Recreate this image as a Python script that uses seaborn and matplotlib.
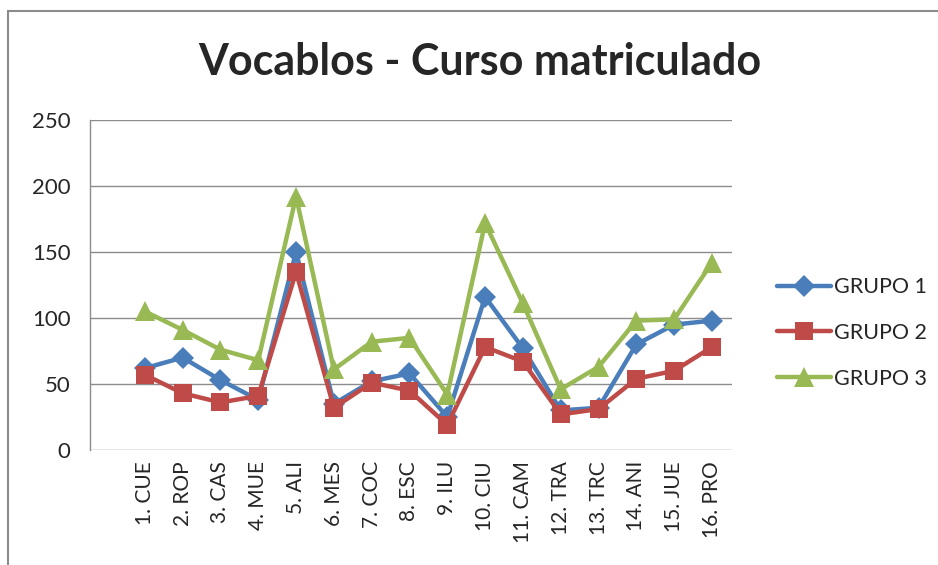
import seaborn as sns
import matplotlib.pyplot as plt
import matplotlib.patches as mpatches
import pandas as pd

# Categories and values
categories = ['1. CUE', '2. ROP', '3. CAS', '4. MUE', '5. ALI', '6. MES', '7. COC', '8. ESC',
              '9. ILU', '10. CIU', '11. CAM', '12. TRA', '13. TRC', '14. ANI', '15. JUE', '16. PRO']
grupo1 = [62, 70, 53, 38, 150, 35, 52, 58, 25, 116, 77, 30, 32, 80, 95, 98]
grupo2 = [57, 43, 36, 41, 135, 32, 51, 45, 19, 78, 67, 27, 31, 54, 60, 78]
grupo3 = [105, 91, 76, 68, 192, 61, 82, 85, 42, 172, 111, 46, 63, 98, 99, 142]
series_names = ['GRUPO 1', 'GRUPO 2', 'GRUPO 3']
y_ticks = [0, 50, 100, 150, 200, 250]

rows = []
for name, vals in zip(series_names, [grupo1, grupo2, grupo3]):
    for i, v in enumerate(vals):
        rows.append({'pos': i, 'Grupo': name, 'valor': v})
df = pd.DataFrame(rows)

sns.set_style('white')
plt.rcParams['font.family'] = ['Lato', 'DejaVu Sans']

colors = {'GRUPO 1': '#4A7EBB', 'GRUPO 2': '#BE4B48', 'GRUPO 3': '#98B954'}
markers = {'GRUPO 1': 'D', 'GRUPO 2': 's', 'GRUPO 3': '^'}
msize = {'GRUPO 1': 11, 'GRUPO 2': 13, 'GRUPO 3': 15}

fig = plt.figure(figsize=(9.38, 5.65), dpi=100)
ax = fig.add_axes([90 / 938, 1 - 450 / 565, 642 / 938, 330 / 565])

for name in series_names:
    sub = df[df['Grupo'] == name]
    sns.lineplot(data=sub, x='pos', y='valor', ax=ax, color=colors[name],
                 marker=markers[name], markersize=msize[name], linewidth=3.2,
                 markeredgewidth=0, label=name)

ax.set_xlim(-1.45, 15.53)
ax.set_ylim(0, 250)
ax.set_yticks(y_ticks)
ax.set_xticks(range(len(categories)))
ax.set_xticklabels(categories, rotation=90, fontsize=15)
ax.tick_params(axis='y', labelsize=16, length=0, pad=14)
ax.tick_params(axis='x', length=0, pad=8)
ax.set_xlabel('')
ax.set_ylabel('')
ax.grid(axis='y', color='#8C8C8C', linewidth=1)
ax.set_axisbelow(True)
for s in ['top', 'right', 'bottom']:
    ax.spines[s].set_visible(False)
ax.spines['left'].set_color('#8C8C8C')
ax.spines['left'].set_linewidth(1)

fig.text(480 / 938, 1 - 62 / 565, 'Vocablos - Curso matriculado', ha='center', va='center',
         fontsize=31, fontweight='bold')

leg = ax.legend(loc='center left', bbox_to_anchor=(758 / 938, 1 - 333 / 565),
                bbox_transform=fig.transFigure, frameon=False, fontsize=15.5,
                handlelength=2.5, handletextpad=0.15, labelspacing=1.2)

# outer chart border
fig.patches.append(mpatches.Rectangle((8 / 938, -0.05), 1.0, 1 - 11 / 565 + 0.05,
                                      transform=fig.transFigure, fill=False,
                                      edgecolor='#8C8C8C', linewidth=1.5))

fig.savefig('out.png', dpi=100)
plt.close(fig)
